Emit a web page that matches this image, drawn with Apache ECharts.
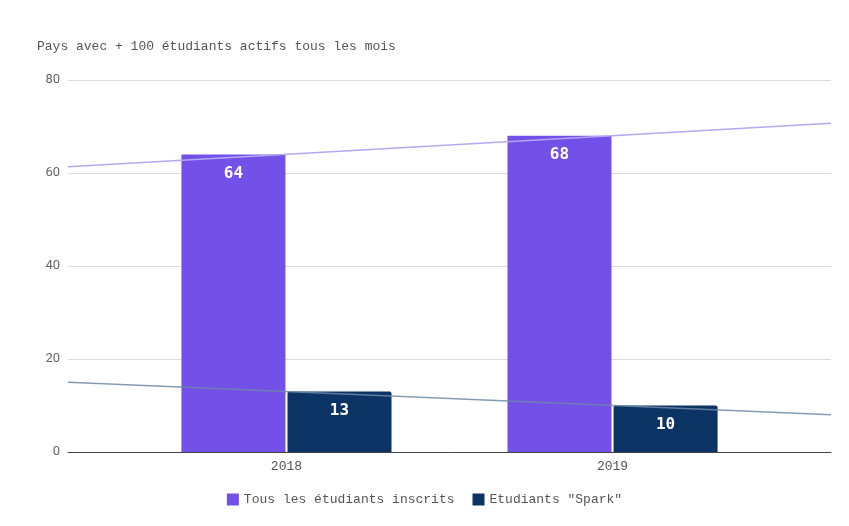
<!DOCTYPE html>
<html><head><meta charset="utf-8">
<script src="https://cdn.jsdelivr.net/npm/echarts@6/dist/echarts.min.js"></script>
<style>html,body{margin:0;padding:0;background:#fff}#c{width:849px;height:526px}</style>
</head><body><div id="c"></div>
<script>
const categories = ['2018', '2019'];
const tousLesEtudiants = [64, 68];
const etudiantsSpark = [13, 10];
const seriesNames = ['Tous les étudiants inscrits', 'Etudiants "Spark"'];
const yMin = 0, yMax = 80, yStep = 20;
const xMin = 0.33, xMax = 2.67;

function trend(vals) {
  const n = vals.length;
  const xs = vals.map((_, i) => i + 1);
  const mx = xs.reduce((a, b) => a + b, 0) / n;
  const my = vals.reduce((a, b) => a + b, 0) / n;
  let sxy = 0, sxx = 0;
  for (let i = 0; i < n; i++) { sxy += (xs[i] - mx) * (vals[i] - my); sxx += (xs[i] - mx) ** 2; }
  const b = sxy / sxx, a = my - b * mx;
  return [[xMin, a + b * xMin], [xMax, a + b * xMax]];
}

const mono = 'Liberation Mono';
const chart = echarts.init(document.getElementById('c'));
const barLabel = {
  show: true, position: 'insideTop', distance: 11, color: '#fff',
  fontFamily: 'DejaVu Sans Mono', fontWeight: 'bold', fontSize: 16
};
chart.setOption({
  animation: false,
  backgroundColor: '#fff',
  title: {
    text: 'Pays avec + 100 étudiants actifs tous les mois',
    left: 32, top: 35,
    textStyle: { fontFamily: mono, fontSize: 13, fontWeight: 'normal', color: '#555' }
  },
  legend: {
    data: seriesNames, bottom: 15, left: 'center',
    itemWidth: 12, itemHeight: 12, itemGap: 18, icon: 'rect',
    textStyle: { fontFamily: mono, fontSize: 13, color: '#555' }
  },
  grid: { left: 68, right: 18, top: 80, bottom: 74 },
  xAxis: {
    type: 'value', min: xMin, max: xMax,
    splitLine: { show: false },
    axisTick: { show: false },
    axisLine: { show: true, lineStyle: { color: '#444', width: 1 } },
    axisLabel: {
      customValues: categories.map((_, i) => i + 1),
      formatter: v => categories[Math.round(v) - 1] || '',
      fontFamily: mono, fontSize: 13, color: '#555', margin: 8
    }
  },
  yAxis: {
    type: 'value', min: yMin, max: yMax, interval: yStep,
    axisLine: { show: false }, axisTick: { show: false },
    splitLine: { lineStyle: { color: '#dcdcdc' } },
    axisLabel: { fontFamily: 'Roboto', fontSize: 13, color: '#666', margin: 8 }
  },
  series: [
    {
      name: seriesNames[0], type: 'bar',
      data: tousLesEtudiants.map((v, i) => [i + 1, v]),
      barWidth: 104, barGap: '2%',
      itemStyle: { color: '#7350e8' }, label: barLabel, z: 2
    },
    {
      name: seriesNames[1], type: 'bar',
      data: etudiantsSpark.map((v, i) => [i + 1, v]),
      barWidth: 104, barGap: '2%',
      itemStyle: { color: '#0b3363', borderRadius: [2, 2, 0, 0] }, label: barLabel, z: 2
    },
    {
      name: 'trend1', type: 'line', data: trend(tousLesEtudiants),
      showSymbol: false, silent: true, z: 3,
      lineStyle: { color: '#b5a7f1', width: 1.5 }
    },
    {
      name: 'trend2', type: 'line', data: trend(etudiantsSpark),
      showSymbol: false, silent: true, z: 3,
      lineStyle: { color: '#6e89a8', width: 1.5, opacity: 0.85 }
    }
  ]
});
</script></body></html>
